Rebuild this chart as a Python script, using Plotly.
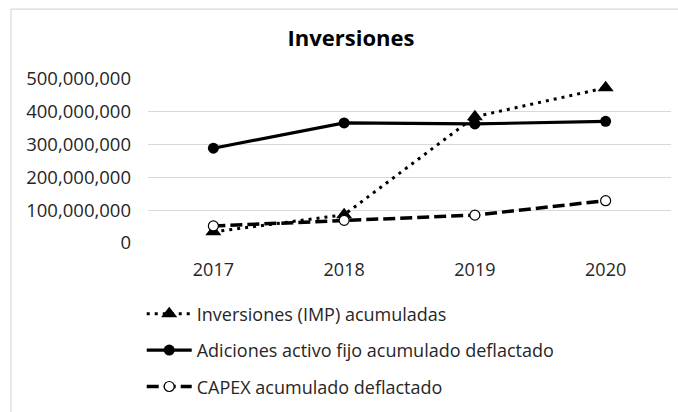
import plotly.graph_objects as go

years = ["2017", "2018", "2019", "2020"]
inversiones = [34e6, 86e6, 385e6, 473e6]
adiciones = [289e6, 366e6, 363e6, 371e6]
capex = [52e6, 69e6, 85e6, 129e6]
y_ticks = [0, 100e6, 200e6, 300e6, 400e6, 500e6]
y_labels = ["0", "100,000,000", "200,000,000", "300,000,000", "400,000,000", "500,000,000"]

FONT = "Open Sans"
TXT = "#262626"

fig = go.Figure()
fig.add_trace(go.Scatter(
    x=years, y=inversiones, name="Inversiones (IMP) acumuladas", legendgroup="a",
    mode="lines+markers",
    line=dict(color="black", width=3, dash="3px,5px"),
    marker=dict(symbol="triangle-up", size=14, color="black"),
))
fig.add_trace(go.Scatter(
    x=years, y=adiciones, name="Adiciones activo fijo acumulado deflactado", legendgroup="b",
    mode="lines+markers",
    line=dict(color="black", width=3.2),
    marker=dict(symbol="circle", size=11, color="black"),
))
fig.add_trace(go.Scatter(
    x=years, y=capex, name="CAPEX acumulado deflactado", legendgroup="c",
    mode="lines+markers",
    line=dict(color="black", width=3.5, dash="12px,5px"),
    marker=dict(symbol="circle", size=10, color="white", line=dict(color="black", width=1.2)),
))

fig.update_layout(
    width=678, height=412,
    margin=dict(l=148, r=7, t=79, b=165),
    paper_bgcolor="white", plot_bgcolor="white",
    font=dict(family=FONT, size=18, color=TXT),
    title=dict(text="<b>Inversiones</b>", x=351/678, xanchor="center", y=1 - 38/412, yanchor="middle",
               font=dict(family=FONT, size=22, color="black")),
    showlegend=True,
    legend=dict(orientation="v", x=-0.012, xanchor="left", y=-0.32, yanchor="top",
                font=dict(family=FONT, size=18, color=TXT), tracegroupgap=10, itemwidth=45,
                bgcolor="rgba(0,0,0,0)"),
    xaxis=dict(type="category", range=[-0.5, len(years) - 0.5], showgrid=False, zeroline=False,
               showline=False, ticks="", ticklabelstandoff=14, tickfont=dict(size=18, color=TXT)),
    yaxis=dict(range=[0, 500e6], tickvals=y_ticks, ticktext=y_labels,
               showgrid=True, gridcolor="#d9d9d9", gridwidth=1.2, zeroline=False, showline=False,
               ticks="", ticklabelstandoff=16, tickfont=dict(size=18.5, color=TXT)),
    shapes=[dict(type="rect", xref="paper", yref="paper",
                 x0=(11 - 148) / 523, x1=1.03, y0=-1.2, y1=(247 - 7.5) / 168,
                 line=dict(color="#d9d9d9", width=1.2), fillcolor="rgba(0,0,0,0)", layer="below")],
)

fig.write_html(
    "out.html",
    config={"displayModeBar": False},
    post_script="document.body.style.margin='0';document.body.style.overflow='hidden';",
)
